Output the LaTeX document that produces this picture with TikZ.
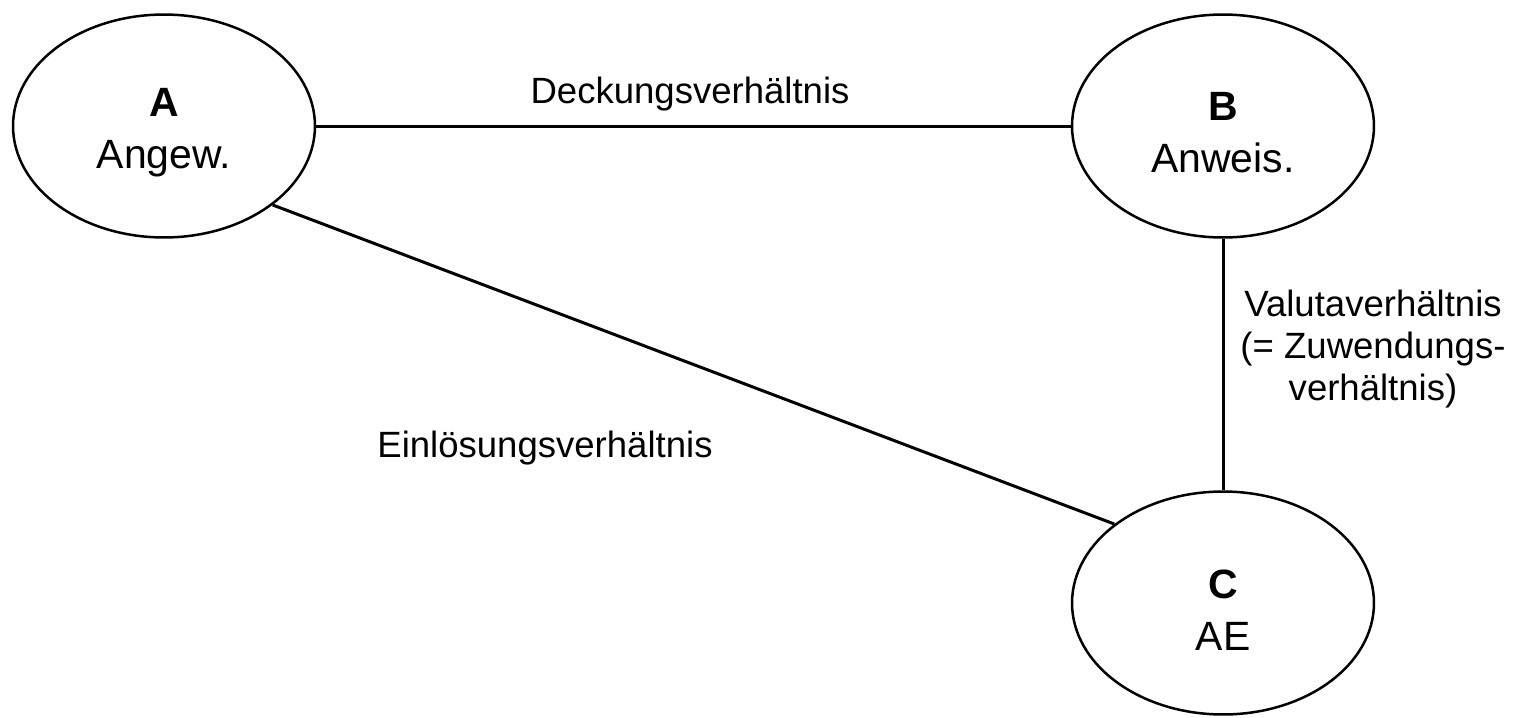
\documentclass[tikz,border=0pt]{standalone}
\usepackage{fontspec}
\setmainfont{Liberation Sans}
\usetikzlibrary{shapes.geometric}

\newcommand{\toprule}{\rule{0pt}{0.84cm}}

\begin{document}
\begin{tikzpicture}[x=0.02cm,y=-0.02cm,
        party/.style={ellipse,draw,line width=0.05cm,minimum width=6.04cm,minimum height=4.46cm,inner sep=0pt,align=center,font=\fontsize{23.3}{29.6}\selectfont},
        rel/.style={inner sep=0pt,align=center,font=\fontsize{20.8}{23.9}\selectfont}]
        \useasboundingbox (0,0) rectangle (1521,717);

        \node[party](A) at (164,126){\toprule\textbf{A}\\Angew.};
        \node[party](B) at (1223,126){\toprule\textbf{B}\\Anweis.};
        \node[party](C) at (1223,603){\toprule\textbf{C}\\AE};

        \draw[line width=0.06cm](A)--(B);
        \draw[line width=0.06cm](B)--(C);
        \draw[line width=0.06cm](A.-36)--(C.144);

        \node[rel,anchor=base](deckung) at (690,103){Deckungsverhältnis};
        \node[rel,anchor=base](einloesung) at (545,457){Einlösungsverhältnis};
        \node[rel](valuta) at (1373,349){Valutaverhältnis\\(= Zuwendungs-\\verhältnis)};
    \end{tikzpicture}
\end{document}
